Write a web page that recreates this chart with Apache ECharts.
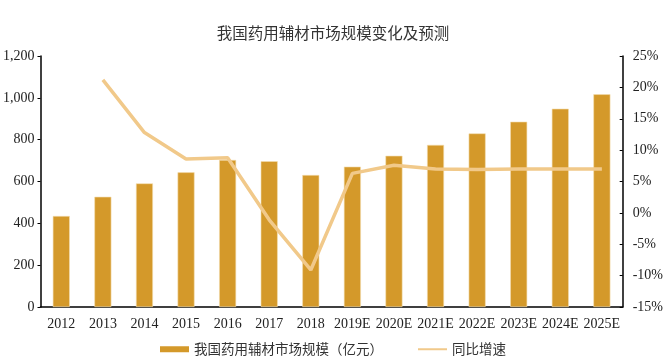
<!DOCTYPE html>
<html>
<head>
<meta charset="utf-8">
<script src="https://cdn.jsdelivr.net/npm/echarts@6/dist/echarts.min.js"></script>
<style>html,body{margin:0;padding:0;background:#fff}#c{width:666px;height:362px}</style>
</head>
<body>
<div id="c"></div>
<script>
var categories = ['2012','2013','2014','2015','2016','2017','2018','2019E','2020E','2021E','2022E','2023E','2024E','2025E'];
var marketSize = [435, 527, 591, 644, 703, 697, 631, 671, 723, 775, 830, 886, 948, 1017];
var growthRate = [null, 21.2, 12.8, 8.6, 8.8, -1.1, -9.1, 6.3, 7.6, 7.0, 6.9, 7.0, 7.0, 7.0];
var leftTicks = [0, 200, 400, 600, 800, 1000, 1200];
var rightTicks = [-15, -10, -5, 0, 5, 10, 15, 20, 25];

var serif = '"Liberation Serif", "Noto Sans CJK SC", serif';
var chart = echarts.init(document.getElementById('c'));
chart.setOption({
  animation: false,
  title: {
    text: '我国药用辅材市场规模变化及预测',
    left: 'center', top: 20,
    textStyle: {fontFamily: '"Noto Sans CJK SC", serif', fontSize: 15.5, fontWeight: 'normal', color: '#333'}
  },
  legend: {
    bottom: 1, left: 'center', itemGap: 34,
    itemWidth: 29, itemHeight: 6,
    textStyle: {fontFamily: '"Noto Sans CJK SC", serif', fontSize: 13.5, color: '#333'},
    data: [
      {name: '我国药用辅材市场规模（亿元）', icon: 'rect', itemStyle: {borderWidth: 0}},
      {name: '同比增速', itemStyle: {opacity: 0}}
    ]
  },
  grid: {left: 39, right: 39, top: 56, bottom: 55},
  xAxis: {
    type: 'category', data: categories,
    axisLine: {lineStyle: {color: '#000', width: 1.5}},
    axisTick: {show: false},
    axisLabel: {fontFamily: serif, fontSize: 14, color: '#222', margin: 10, interval: 0}
  },
  yAxis: [
    {
      type: 'value', min: leftTicks[0], max: leftTicks[leftTicks.length-1], interval: 200,
      axisLine: {show: true, lineStyle: {color: '#000', width: 1.5}},
      axisTick: {show: true, length: 3, lineStyle: {color: '#000'}},
      splitLine: {show: false},
      axisLabel: {fontFamily: serif, fontSize: 14, color: '#222', margin: 6,
        formatter: function(v){ return v.toLocaleString('en-US'); }}
    },
    {
      type: 'value', min: rightTicks[0], max: rightTicks[rightTicks.length-1], interval: 5,
      axisLine: {show: true, lineStyle: {color: '#000', width: 1.5}},
      axisTick: {show: true, inside: true, length: 3, lineStyle: {color: '#000'}},
      splitLine: {show: false},
      axisLabel: {fontFamily: serif, fontSize: 14, color: '#222', margin: 10,
        formatter: function(v){ return v + '%'; }}
    }
  ],
  series: [
    {
      name: '我国药用辅材市场规模（亿元）', type: 'bar', data: marketSize, barWidth: 17,
      itemStyle: {color: '#D4992A', borderColor: '#F3DDB0', borderWidth: 0.6}
    },
    {
      name: '同比增速', type: 'line', yAxisIndex: 1, data: growthRate,
      symbol: 'none', connectNulls: false,
      lineStyle: {color: '#F1C98A', width: 3.5},
      itemStyle: {color: '#F1C98A'}
    }
  ]
});
</script>
</body>
</html>
